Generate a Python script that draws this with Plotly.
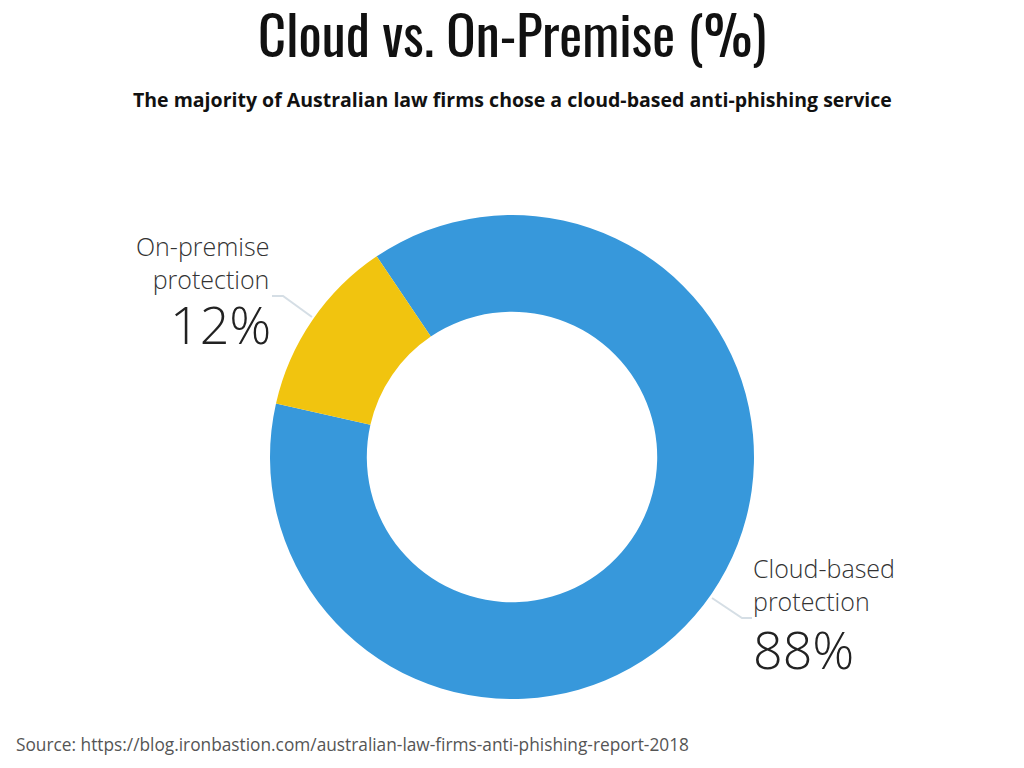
import plotly.graph_objects as go

# ---- data ----
categories = ["Cloud-based protection", "On-premise protection"]
values = [88, 12]
colors = ["#3798DB", "#F1C40F"]
title_text = "Cloud vs. On-Premise (%)"
subtitle_text = "The majority of Australian law firms chose a cloud-based anti-phishing service"
source_text = "Source: https://blog.ironbastion.com/australian-law-firms-anti-phishing-report-2018"

W, H = 1024, 768
OFF = 8  # page body margin

def px(x):
    return (x - OFF) / W

def py(y):
    return 1 - (y - OFF) / H

cx, cy, R = 512, 457, 242

fig = go.Figure(go.Pie(
    labels=categories,
    values=values,
    hole=0.6,
    sort=False,
    direction="clockwise",
    rotation=-34,
    marker=dict(colors=colors, line=dict(width=0)),
    textinfo="none",
    hoverinfo="label+percent",
    showlegend=False,
    domain=dict(x=[px(cx - R), px(cx + R)], y=[py(cy + R), py(cy - R)]),
))

label_font = dict(family="Open Sans, sans-serif", size=25, color="#333333", weight=300)
big_font = dict(family="Open Sans, sans-serif", size=52, color="#222222", weight=300)

def two_line(label):
    parts = label.split(" ")
    return parts[0] + "<br>" + " ".join(parts[1:])

annotations = [
    dict(text=title_text, x=px(512), y=py(32), xref="paper", yref="paper",
         xanchor="center", yanchor="middle", showarrow=False, borderpad=0,
         font=dict(family="Oswald, 'Liberation Sans Narrow', 'DejaVu Sans Condensed', sans-serif",
                   size=54.5, color="#111111")),
    dict(text="<b>" + subtitle_text + "</b>", x=px(512), y=py(100), xref="paper", yref="paper",
         xanchor="center", yanchor="middle", showarrow=False,
         font=dict(family="Open Sans, sans-serif", size=19.5, color="#111111")),
    # On-premise label
    dict(text=two_line(categories[1]), x=px(270), y=py(262), xref="paper", yref="paper",
         xanchor="right", yanchor="middle", align="right", showarrow=False, borderpad=0,
         font=label_font),
    dict(text=f"{values[1]}%", x=px(272), y=py(323), xref="paper", yref="paper",
         xanchor="right", yanchor="middle", showarrow=False, borderpad=0, font=big_font),
    # Cloud label
    dict(text=two_line(categories[0]), x=px(752), y=py(584), xref="paper", yref="paper",
         xanchor="left", yanchor="middle", align="left", showarrow=False, borderpad=0,
         font=label_font),
    dict(text=f"{values[0]}%", x=px(752), y=py(648), xref="paper", yref="paper",
         xanchor="left", yanchor="middle", showarrow=False, borderpad=0, font=big_font),
    dict(text=source_text, x=px(14), y=py(744), xref="paper", yref="paper",
         xanchor="left", yanchor="middle", showarrow=False,
         font=dict(family="Open Sans, sans-serif", size=17.3, color="#555555")),
]

line_style = dict(color="#D5DEE5", width=2)
shapes = [
    dict(type="path", xref="paper", yref="paper",
         path=f"M {px(272)} {py(296)} L {px(283)} {py(296)} L {px(312)} {py(317)}",
         line=line_style),
    dict(type="path", xref="paper", yref="paper",
         path=f"M {px(712)} {py(598)} L {px(742)} {py(618)} L {px(752)} {py(618)}",
         line=line_style),
]

fig.update_layout(
    width=W, height=H,
    margin=dict(l=0, r=0, t=0, b=0),
    paper_bgcolor="white",
    plot_bgcolor="white",
    annotations=annotations,
    shapes=shapes,
)

fig.write_html("out.html")
